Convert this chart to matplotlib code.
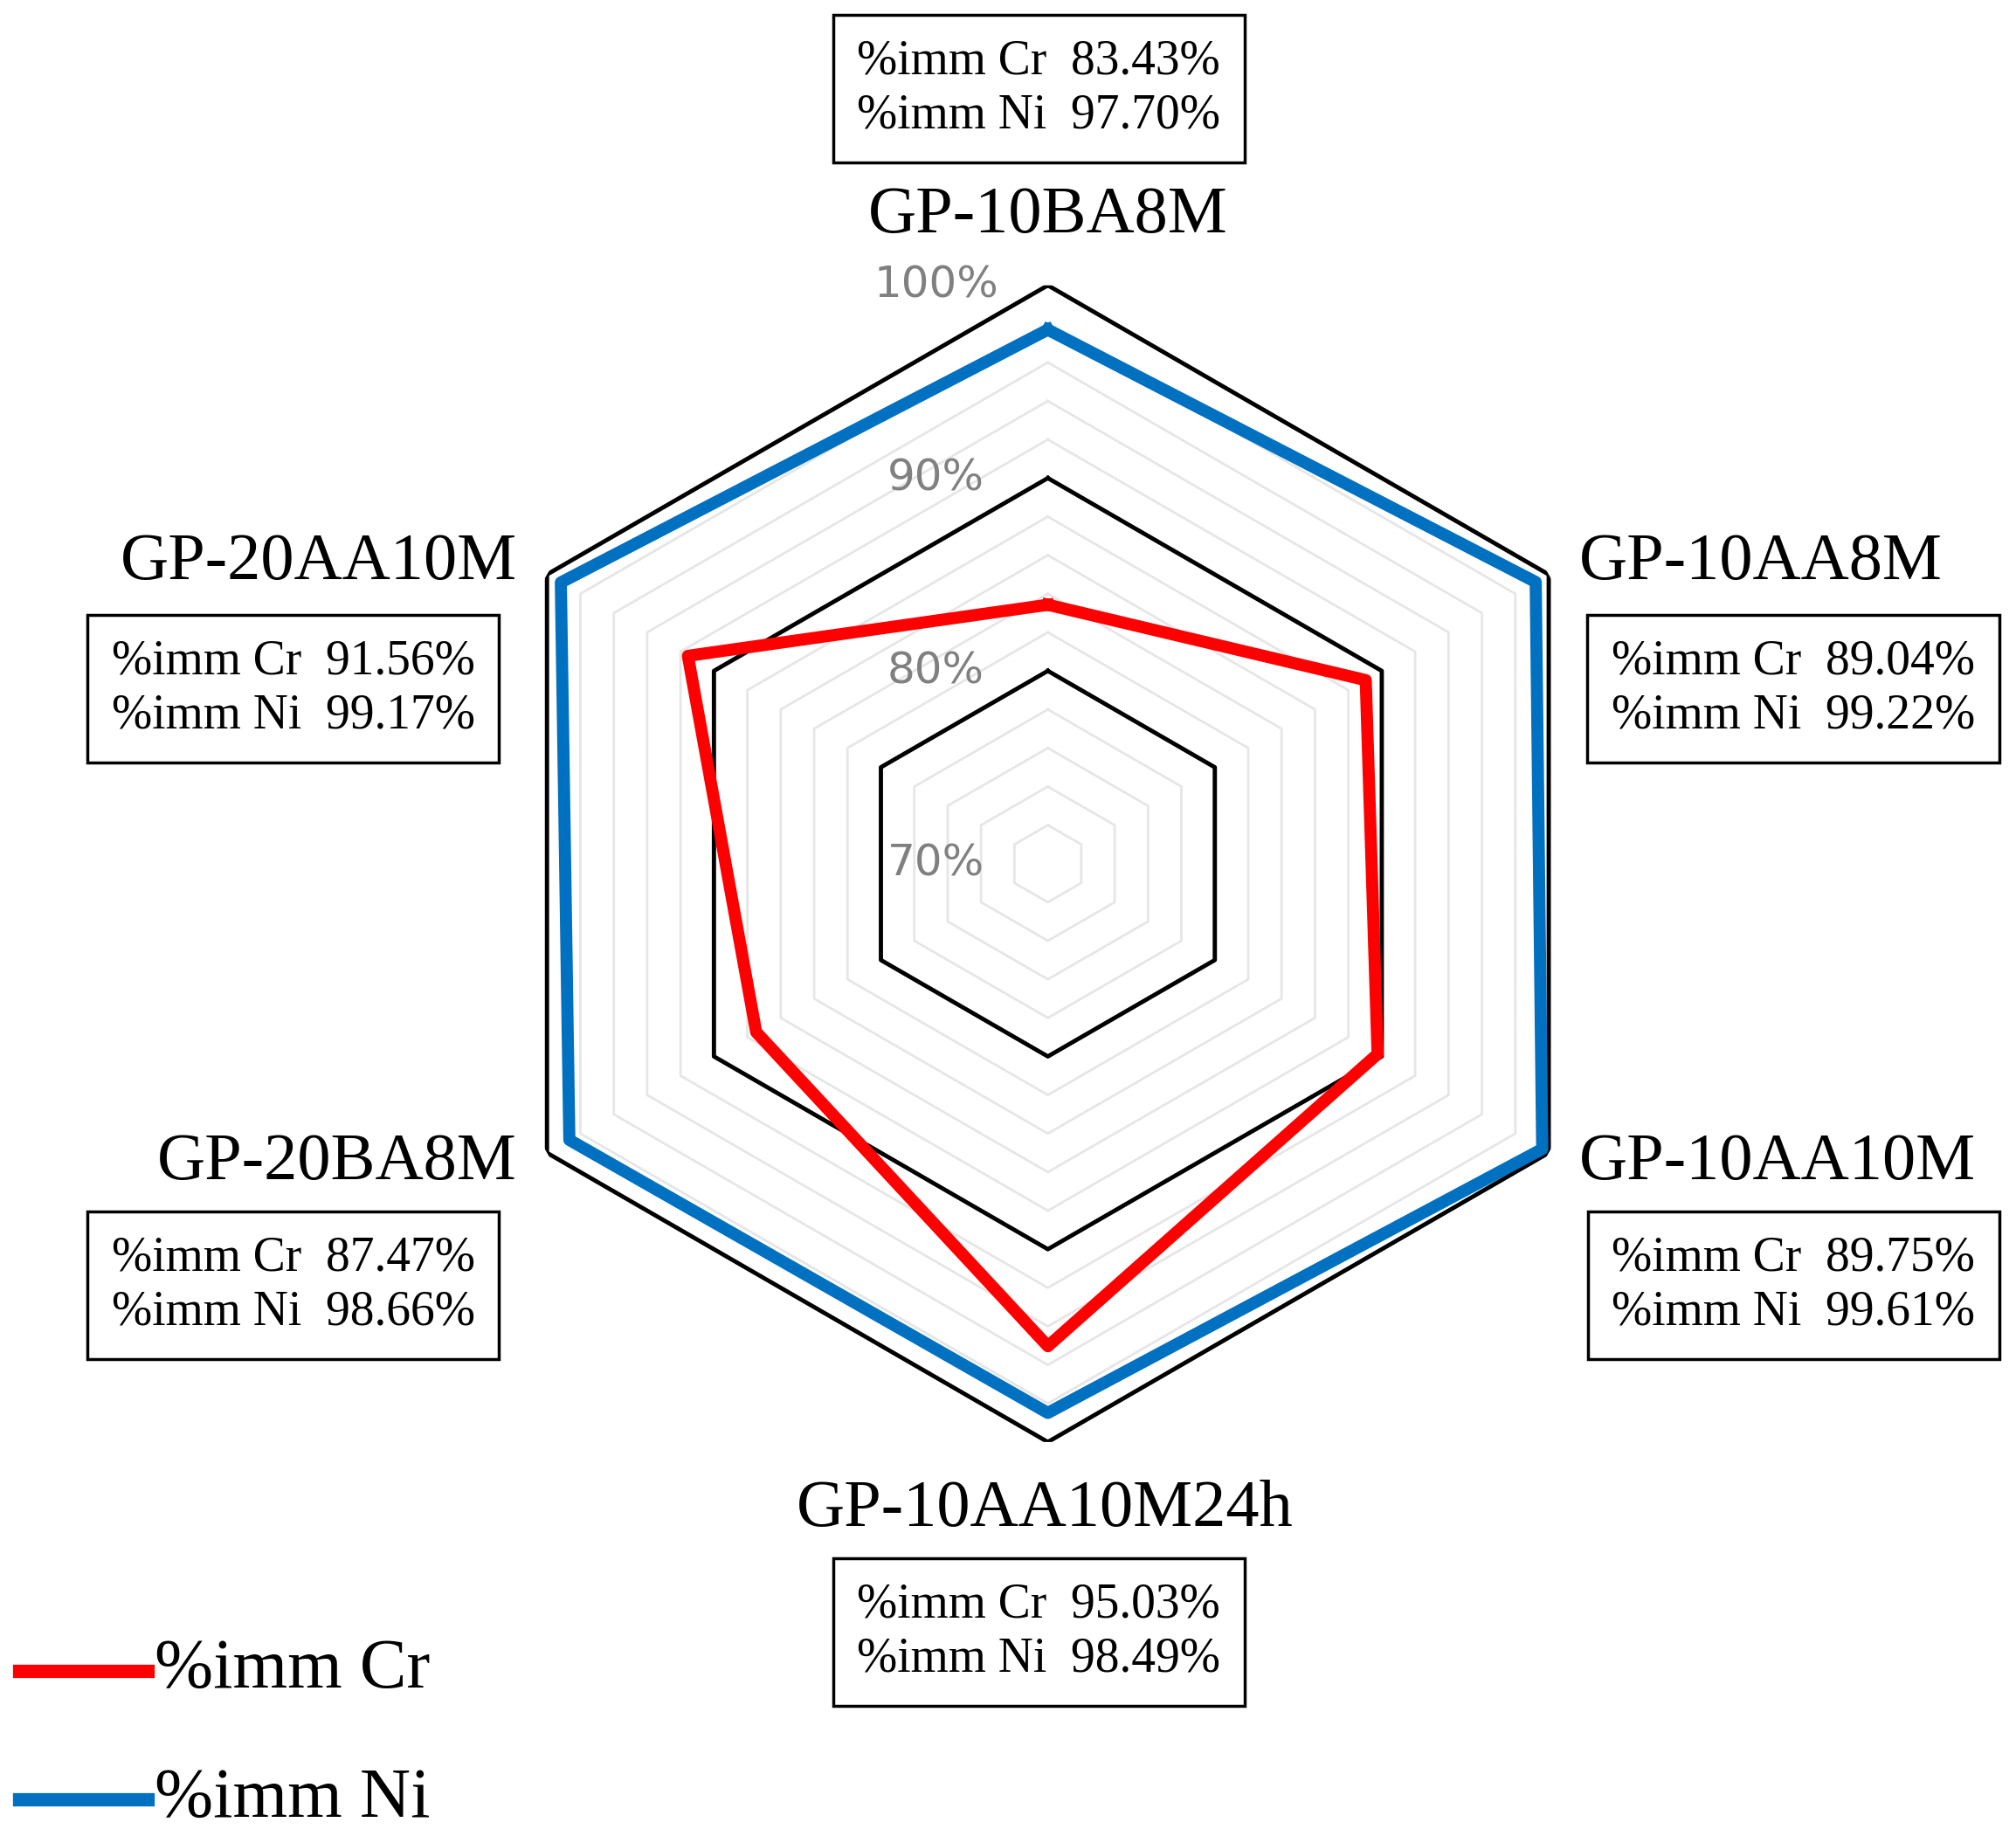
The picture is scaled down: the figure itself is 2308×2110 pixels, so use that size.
import numpy as np
import matplotlib.pyplot as plt
from matplotlib.lines import Line2D

categories = ["GP-10BA8M", "GP-10AA8M", "GP-10AA10M", "GP-10AA10M24h", "GP-20BA8M", "GP-20AA10M"]
imm_cr = [83.43, 89.04, 89.75, 95.03, 87.47, 91.56]
imm_ni = [97.70, 99.22, 99.61, 98.49, 98.66, 99.17]
r_ticks = [70, 80, 90, 100]
r_labels = ["70%", "80%", "90%", "100%"]

W, H = 1568, 1434  # reference layout units


def fx(x):
    return x / W


def fy(y):
    return 1 - y / H


fig = plt.figure(figsize=(23.08, 21.10), dpi=100)
cx, cy, R = 815, 672, 450
ax = fig.add_axes([fx(cx - R), fy(cy + R), 2 * R / W, 2 * R / H], projection="polar")
ax.set_theta_offset(np.pi / 2)
ax.set_theta_direction(-1)
ax.set_ylim(70, 100)
ax.grid(False)
ax.spines["polar"].set_visible(False)
ax.set_xticks([])
ax.set_yticks([])
ax.patch.set_alpha(0)

theta = np.linspace(0, 2 * np.pi, len(categories), endpoint=False)
tc = np.append(theta, theta[0])

for r in np.arange(72, 100, 2):
    if r % 10:
        ax.plot(tc, [r] * len(tc), color="#e6e6e6", lw=2, zorder=1)
for r in r_ticks[1:]:
    ax.plot(tc, [r] * len(tc), color="black", lw=3.5, zorder=2)

ax.plot(tc, imm_ni + imm_ni[:1], color="#0070C0", lw=10, zorder=3)
ax.plot(tc, imm_cr + imm_cr[:1], color="#FF0000", lw=10, zorder=4)

# radial tick labels
for r, lab in zip(r_ticks, r_labels):
    y = cy - (r - 70) / 30 * R
    fig.text(fx(728), fy(y), lab, fontsize=36, color="#808080", ha="center", va="center",
             family="DejaVu Sans")

serif = ["Liberation Serif", "DejaVu Serif"]
label_pos = [(815, 168, "center"), (1228, 438, "left"), (1228, 905, "left"),
             (813, 1175, "center"), (402, 905, "right"), (402, 438, "right")]
box_pos = [(808, 69), (1395, 536), (1395, 1000), (808, 1270), (228, 1000), (228, 536)]

for i, name in enumerate(categories):
    x, y, ha = label_pos[i]
    fig.text(fx(x), fy(y), name, fontsize=55, ha=ha, va="center", family=serif)
    bx, by = box_pos[i]
    txt = f"%imm Cr  {imm_cr[i]:.2f}%\n%imm Ni  {imm_ni[i]:.2f}%"
    fig.text(fx(bx), fy(by), txt, fontsize=40, ha="center", va="center", family=serif,
             linespacing=1.25,
             bbox=dict(boxstyle="square,pad=0.5", fc="white", ec="black", lw=2.5))

# legend
for y, col, lab in [(1300, "#FF0000", "%imm Cr"), (1400, "#0070C0", "%imm Ni")]:
    fig.add_artist(Line2D([fx(15), fx(115)], [fy(y), fy(y)], color=col, lw=11,
                          transform=fig.transFigure))
    fig.text(fx(120), fy(y), lab, fontsize=58, ha="left", va="center", family=serif)

fig.savefig("out.png", dpi=100)
